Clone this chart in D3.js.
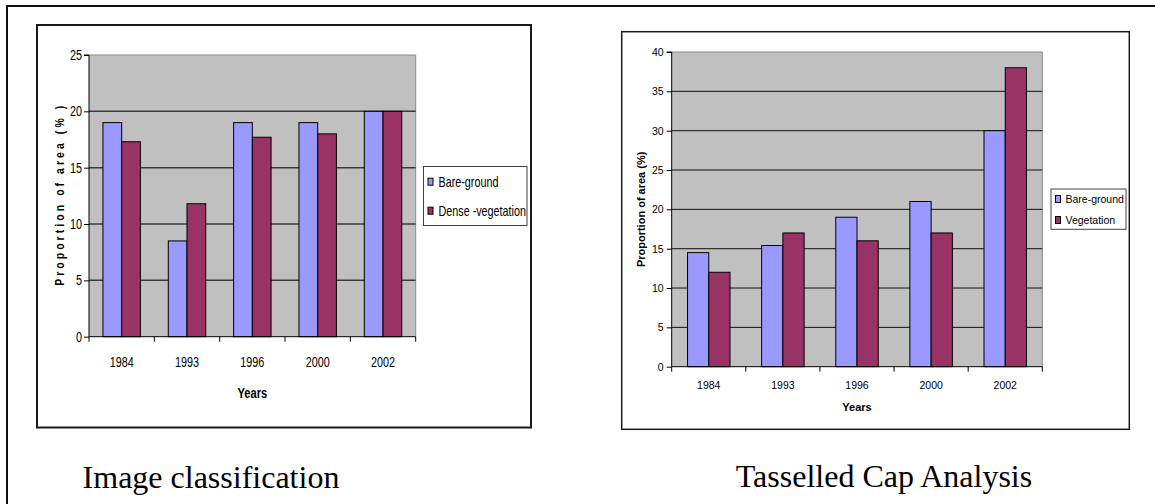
<!DOCTYPE html>
<html>
<head>
<meta charset="utf-8">
<script src="https://cdn.jsdelivr.net/npm/d3@7"></script>
<style>
  html, body { margin: 0; padding: 0; background: #fff; }
  svg { display: block; }
  .sans { font-family: "Liberation Sans", Arial, sans-serif; }
  .serif { font-family: "Liberation Serif", "Times New Roman", serif; }
</style>
</head>
<body>
<svg id="page" width="1155" height="504"></svg>
<script>
// Survey years shown on both charts
const years = ["1984", "1993", "1996", "2000", "2002"];

// Image classification results (% of area)
const classBareGround = [19, 8.5, 19, 19, 20];
const classDenseVeg = [17.3, 11.8, 17.7, 18, 20];
const classTicks = [0, 5, 10, 15, 20, 25];

// Tasselled Cap results (% of area)
const tcBareGround = [14.5, 15.4, 19, 21, 30];
const tcVegetation = [12, 17, 16, 17, 38];
const tcTicks = [0, 5, 10, 15, 20, 25, 30, 35, 40];

const BARE_COLOR = "#9999ff";
const VEG_COLOR = "#993366";

const svg = d3.select("#page");

// Page border (top and left rules)
svg.append("line").attr("x1", 7).attr("x2", 1155).attr("y1", 6).attr("y2", 6)
  .attr("stroke", "#111").attr("stroke-width", 2);
svg.append("line").attr("x1", 7).attr("x2", 7).attr("y1", 5).attr("y2", 504)
  .attr("stroke", "#111").attr("stroke-width", 2);

function drawChart(cfg) {
  const g = svg.append("g").attr("class", "sans");
  const sq = cfg.squeeze; // horizontal condensing of the chart lettering

  // text placed at (x, y), condensed horizontally by sq
  function label(parent, x, y, str) {
    return parent.append("text")
      .attr("transform", `translate(${x},${y}) scale(${sq},1)`)
      .text(str);
  }

  // chart frame
  g.append("rect")
    .attr("x", cfg.frame[0]).attr("y", cfg.frame[1])
    .attr("width", cfg.frame[2] - cfg.frame[0]).attr("height", cfg.frame[3] - cfg.frame[1])
    .attr("fill", "#fff").attr("stroke", "#1a1a1a").attr("stroke-width", cfg.frameWidth);

  const [L, T, R, B] = cfg.plot;
  const x0 = d3.scaleBand().domain(years).range([L, R]).paddingInner(0).paddingOuter(0);
  const x1 = d3.scaleBand().domain([0, 1]).range([0, x0.bandwidth()]).paddingInner(0).paddingOuter(0.745);
  const y = d3.scaleLinear().domain([0, d3.max(cfg.ticks)]).range([B, T]);

  // plot background
  g.append("rect").attr("x", L).attr("y", T).attr("width", R - L).attr("height", B - T)
    .attr("fill", "#c0c0c0");
  g.append("path").attr("d", `M${L},${T}H${R}V${B}`)
    .attr("fill", "none").attr("stroke", "#8a8a8a").attr("stroke-width", 1);

  // horizontal gridlines
  g.selectAll("line.grid").data(cfg.ticks.filter(t => t > 0 && t < d3.max(cfg.ticks)))
    .join("line").attr("class", "grid")
    .attr("x1", L).attr("x2", R)
    .attr("y1", d => y(d)).attr("y2", d => y(d))
    .attr("stroke", cfg.gridColor).attr("stroke-width", cfg.gridWidth);

  // bars
  const seriesList = [
    { values: cfg.bare, color: BARE_COLOR },
    { values: cfg.veg, color: VEG_COLOR }
  ];
  seriesList.forEach((s, si) => {
    g.selectAll(null).data(years).join("rect")
      .attr("x", d => x0(d) + x1(si))
      .attr("y", (d, i) => y(s.values[i]))
      .attr("width", x1.bandwidth())
      .attr("height", (d, i) => B - y(s.values[i]))
      .attr("fill", s.color)
      .attr("stroke", "#000").attr("stroke-width", 1);
  });

  // y axis
  const yAxis = d3.axisLeft(y).tickValues(cfg.ticks).tickSize(5).tickPadding(cfg.yPad).tickFormat(d3.format("d"));
  const ya = g.append("g").attr("transform", `translate(${L},0)`).call(yAxis);
  ya.attr("font-family", null).attr("font-size", null);
  ya.select(".domain").attr("stroke", "#000").attr("d", `M-5,${T}H0V${B}`);
  ya.selectAll(".tick line").attr("stroke", "#000");
  ya.selectAll("text").attr("fill", "#000").style("font-size", cfg.tickFont + "px")
    .attr("x", -(5 + cfg.yPad) / sq)
    .attr("transform", `scale(${sq},1)`);

  // x axis: labels centred on categories, ticks on category boundaries
  const xAxis = d3.axisBottom(x0).tickSize(0).tickPadding(cfg.xPad);
  const xa = g.append("g").attr("transform", `translate(0,${B})`).call(xAxis);
  xa.attr("font-family", null).attr("font-size", null);
  xa.select(".domain").attr("stroke", "#000").attr("d", `M${L},0H${R}`);
  xa.selectAll("text").attr("fill", "#000").style("font-size", cfg.tickFont + "px")
    .attr("transform", `scale(${sq},1)`);
  const bounds = years.map(d => x0(d)).concat([x0.range()[1]]);
  xa.selectAll("line.bound").data(bounds).join("line").attr("class", "bound")
    .attr("x1", d => d).attr("x2", d => d).attr("y1", 0).attr("y2", 5)
    .attr("stroke", "#000");

  // axis titles
  label(g, (L + R) / 2, cfg.xTitleY, "Years")
    .attr("text-anchor", "middle").attr("font-weight", "bold")
    .style("font-size", cfg.titleFont + "px");

  const yt = g.append("text")
    .attr("transform", `translate(${cfg.yTitleX},${(T + B) / 2}) rotate(-90) scale(${sq},1)`)
    .attr("text-anchor", "middle").attr("font-weight", "bold")
    .style("font-size", cfg.yTitleFont + "px")
    .text(cfg.yTitle);
  if (cfg.yTitleLength) {
    yt.attr("textLength", cfg.yTitleLength / sq).attr("lengthAdjust", "spacing");
  }

  // legend
  const lg = cfg.legend;
  g.append("rect").attr("x", lg.box[0]).attr("y", lg.box[1])
    .attr("width", lg.box[2] - lg.box[0]).attr("height", lg.box[3] - lg.box[1])
    .attr("fill", "#fff").attr("stroke", "#444").attr("stroke-width", 1);
  const legendItems = [
    { label: cfg.legendLabels[0], color: BARE_COLOR },
    { label: cfg.legendLabels[1], color: VEG_COLOR }
  ];
  legendItems.forEach((it, i) => {
    const cy = lg.rows[i];
    g.append("rect").attr("x", lg.swatchX).attr("y", cy - 3.5)
      .attr("width", 5).attr("height", 7)
      .attr("fill", it.color).attr("stroke", "#000").attr("stroke-width", 1);
    label(g, lg.textX, cy, it.label).attr("dy", "0.35em")
      .style("font-size", lg.font + "px");
  });

  // caption below the chart
  svg.append("text").attr("class", "serif")
    .attr("x", cfg.caption.x).attr("y", cfg.caption.y)
    .attr("text-anchor", "middle").style("font-size", "32px")
    .text(cfg.caption.text);
}

drawChart({
  squeeze: 0.77,
  frame: [37, 25, 531, 427.5], frameWidth: 2,
  plot: [89, 55, 415.7, 336.7],
  ticks: classTicks,
  bare: classBareGround, veg: classDenseVeg,
  gridColor: "#3a3a3a", gridWidth: 1.5,
  tickFont: 14, yPad: 2, xPad: 20,
  titleFont: 14.5, xTitleY: 398,
  yTitle: "Proportion of area (% )", yTitleX: 64, yTitleFont: 13.5, yTitleLength: 180,
  legendLabels: ["Bare-ground", "Dense -vegetation"],
  legend: { box: [423.5, 166.5, 527, 225.5], rows: [181.7, 210.7], swatchX: 428, textX: 438.5, font: 14 },
  caption: { text: "Image classification", x: 211, y: 488 }
});

drawChart({
  squeeze: 1,
  frame: [621.7, 31.7, 1129.3, 429.3], frameWidth: 1.5,
  plot: [671.7, 52, 1042.3, 366.7],
  ticks: tcTicks,
  bare: tcBareGround, veg: tcVegetation,
  gridColor: "#111", gridWidth: 1,
  tickFont: 10.5, yPad: 3, xPad: 15,
  titleFont: 11, xTitleY: 411,
  yTitle: "Proportion of area (%)", yTitleX: 645, yTitleFont: 11, yTitleLength: null,
  legendLabels: ["Bare-ground", "Vegetation"],
  legend: { box: [1051, 189, 1126, 229.3], rows: [199, 220], swatchX: 1055.5, textX: 1065.5, font: 10.5 },
  caption: { text: "Tasselled Cap Analysis", x: 884, y: 487 }
});
</script>
</body>
</html>
